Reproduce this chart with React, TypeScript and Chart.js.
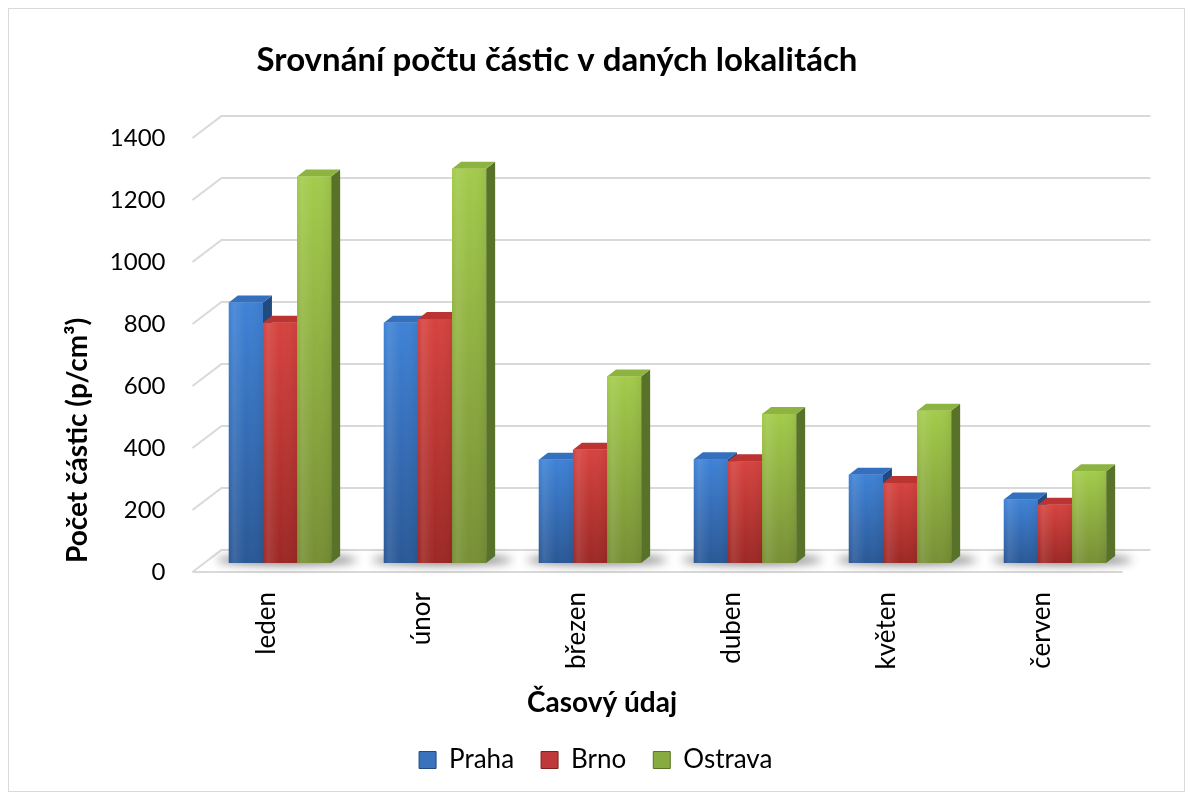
import React, { useEffect, useRef } from "react";
import { Chart, registerables } from "chart.js";

Chart.register(...registerables);

const categories = ["leden", "únor", "březen", "duben", "květen", "červen"];
const seriesNames = ["Praha", "Brno", "Ostrava"];
const praha = [840, 775, 333, 335, 285, 205];
const brno = [775, 787, 365, 328, 258, 188];
const ostrava = [1247, 1272, 602, 481, 491, 296];
const yTicks = [0, 200, 400, 600, 800, 1000, 1200, 1400];
const chartTitle = "Srovnání počtu částic v daných lokalitách";
const yTitle = "Počet částic (p/cm³)";
const xTitle = "Časový údaj";

const FONT = "Lato, 'Liberation Sans', sans-serif";

const palettes = [
  { top: "#3f82d6", bottom: "#2a5896", side: "#214a80", cap: "#3470bd", legend: "#3a72bd" },
  { top: "#d6433f", bottom: "#9c2825", side: "#7f201e", cap: "#bb3431", legend: "#c0393a" },
  { top: "#a3cb4b", bottom: "#778f35", side: "#58722a", cap: "#8db340", legend: "#88ab3f" },
];

// layout (canvas pixels)
const PLOT_LEFT = 193.5;
const PLOT_RIGHT = 1123.5;
const PLOT_TOP = 120;
const PLOT_BOTTOM = 554;
const PAD_LEFT = 50;
const PAD_BOTTOM = 8;
const DEPTH_X = 9;
const DEPTH_Y = 7;

function barGradient(ctx: CanvasRenderingContext2D, top: number, base: number, p: any) {
  const g = ctx.createLinearGradient(0, top, 0, base);
  g.addColorStop(0, p.top);
  g.addColorStop(1, p.bottom);
  return g;
}

const threeDPlugin = {
  id: "threeD",
  beforeDatasetsDraw(chart: any) {
    const { ctx, chartArea, scales } = chart;
    const y = scales.y;
    const fl = chartArea.left - 10;
    ctx.save();
    ctx.strokeStyle = "#d9d9d9";
    ctx.lineWidth = 2;
    yTicks.forEach((v) => {
      const py = y.getPixelForValue(v);
      ctx.beginPath();
      ctx.moveTo(fl, py + 9);
      ctx.lineTo(fl + 29, py - 13);
      ctx.lineTo(chartArea.right + 18, py - 13);
      ctx.stroke();
    });
    const p0 = y.getPixelForValue(0);
    ctx.beginPath();
    ctx.moveTo(fl, p0 + 9);
    ctx.lineTo(chartArea.right - 10, p0 + 9);
    ctx.stroke();

    // floor shadows
    const first = chart.getDatasetMeta(0).data;
    const last = chart.getDatasetMeta(chart.data.datasets.length - 1).data;
    ctx.filter = "blur(5px)";
    ctx.fillStyle = "rgba(0,0,0,0.5)";
    first.forEach((el: any, i: number) => {
      const l = el.x - el.width / 2 - 12;
      const r = last[i].x + last[i].width / 2 + 26;
      ctx.beginPath();
      ctx.ellipse((l + r) / 2, p0 - 3, (r - l) / 2, 5, 0, 0, Math.PI * 2);
      ctx.fill();
    });
    ctx.filter = "none";
    ctx.restore();
  },
  afterDatasetsDraw(chart: any) {
    const { ctx } = chart;
    ctx.save();
    chart.data.datasets.forEach((_: any, di: number) => {
      const p = palettes[di];
      const meta = chart.getDatasetMeta(di);
      meta.data.forEach((el: any) => {
        const l = el.x - el.width / 2;
        const r = el.x + el.width / 2;
        const t = el.y;
        const b = el.base;
        // side face
        ctx.fillStyle = p.side;
        ctx.beginPath();
        ctx.moveTo(r, t);
        ctx.lineTo(r + DEPTH_X, t - DEPTH_Y);
        ctx.lineTo(r + DEPTH_X, b - DEPTH_Y);
        ctx.lineTo(r, b);
        ctx.closePath();
        ctx.fill();
        // top face
        ctx.fillStyle = p.cap;
        ctx.beginPath();
        ctx.moveTo(l, t);
        ctx.lineTo(l + DEPTH_X, t - DEPTH_Y);
        ctx.lineTo(r + DEPTH_X, t - DEPTH_Y);
        ctx.lineTo(r, t);
        ctx.closePath();
        ctx.fill();
        // front face
        ctx.fillStyle = barGradient(ctx, t, b, p);
        ctx.fillRect(l, t, r - l, b - t);
        const hg = ctx.createLinearGradient(l, 0, r, 0);
        hg.addColorStop(0, "rgba(255,255,255,0.0)");
        hg.addColorStop(0.15, "rgba(255,255,255,0.10)");
        hg.addColorStop(0.5, "rgba(255,255,255,0.0)");
        hg.addColorStop(1, "rgba(0,0,0,0.06)");
        ctx.fillStyle = hg;
        ctx.fillRect(l, t, r - l, b - t);
      });
    });
    ctx.restore();
  },
  afterDraw(chart: any) {
    const { ctx } = chart;
    ctx.save();
    ctx.fillStyle = "#000";
    ctx.textAlign = "center";
    ctx.textBaseline = "alphabetic";
    ctx.font = `bold 33px ${FONT}`;
    ctx.fillText(chartTitle, 548, 62);
    ctx.font = `bold 28px ${FONT}`;
    ctx.textBaseline = "middle";
    ctx.fillText(xTitle, 593, 694);
    ctx.restore();
  },
};

export default function App() {
  const ref = useRef<HTMLCanvasElement | null>(null);

  useEffect(() => {
    if (!ref.current) return;
    const seriesValues = [praha, brno, ostrava];
    const chart = new Chart(ref.current, {
      type: "bar",
      data: {
        labels: categories,
        datasets: seriesNames.map((name, i) => ({
          label: name,
          data: seriesValues[i],
          backgroundColor: (c: any) => {
            const ch = c.chart;
            if (!ch.chartArea || c.raw === undefined) return palettes[i].legend;
            const y = ch.scales.y;
            return barGradient(ch.ctx, y.getPixelForValue(c.raw), y.getPixelForValue(0), palettes[i]);
          },
          borderWidth: 0,
          barPercentage: 1,
          categoryPercentage: 0.66,
        })),
      },
      plugins: [threeDPlugin],
      options: {
        animation: false,
        responsive: true,
        maintainAspectRatio: false,
        layout: {
          padding: { top: PLOT_TOP, left: PAD_LEFT, right: 1175 - PLOT_RIGHT, bottom: PAD_BOTTOM },
        },
        plugins: {
          title: { display: false },
          tooltip: { enabled: false },
          legend: {
            display: true,
            position: "bottom",
            labels: {
              color: "#000",
              font: { family: FONT, size: 26 },
              boxWidth: 17,
              boxHeight: 17,
              padding: 27,
              generateLabels: (ch: any) =>
                ch.data.datasets.map((ds: any, i: number) => ({
                  text: ds.label,
                  fillStyle: palettes[i].legend,
                  strokeStyle: palettes[i].side,
                  lineWidth: 1,
                  hidden: false,
                  datasetIndex: i,
                  fontColor: "#000",
                })),
            },
          },
        },
        scales: {
          x: {
            grid: { display: false, drawTicks: false },
            border: { display: false },
            ticks: {
              color: "#000",
              font: { family: FONT, size: 26 },
              minRotation: 90,
              maxRotation: 90,
              autoSkip: false,
              padding: 29,
              labelOffset: -13,
            },
            afterFit: (s: any) => {
              const c = s.chart;
              const lg = c.legend ? c.legend.height : 0;
              s.height = c.height - PAD_BOTTOM - lg - PLOT_BOTTOM;
            },
          },
          y: {
            min: 0,
            max: 1400,
            grid: { display: false, drawTicks: false },
            border: { display: false },
            ticks: {
              stepSize: 200,
              color: "#000",
              font: { family: FONT, size: 24 },
              padding: 37,
              labelOffset: 9,
              callback: (v: any) => String(v),
            },
            title: {
              display: true,
              text: yTitle,
              align: "start",
              color: "#000",
              font: { family: FONT, size: 28, weight: "bold" },
              padding: { top: 2, bottom: 4 },
            },
            afterFit: (s: any) => {
              s.width = PLOT_LEFT - PAD_LEFT;
            },
          },
        },
      },
    } as any);
    return () => chart.destroy();
  }, []);

  return (
    <div
      style={{
        width: 1177,
        height: 784,
        boxSizing: "border-box",
        border: "1px solid #d9d9d9",
        position: "relative",
        background: "#fff",
      }}
    >
      <canvas ref={ref} />
    </div>
  );
}
